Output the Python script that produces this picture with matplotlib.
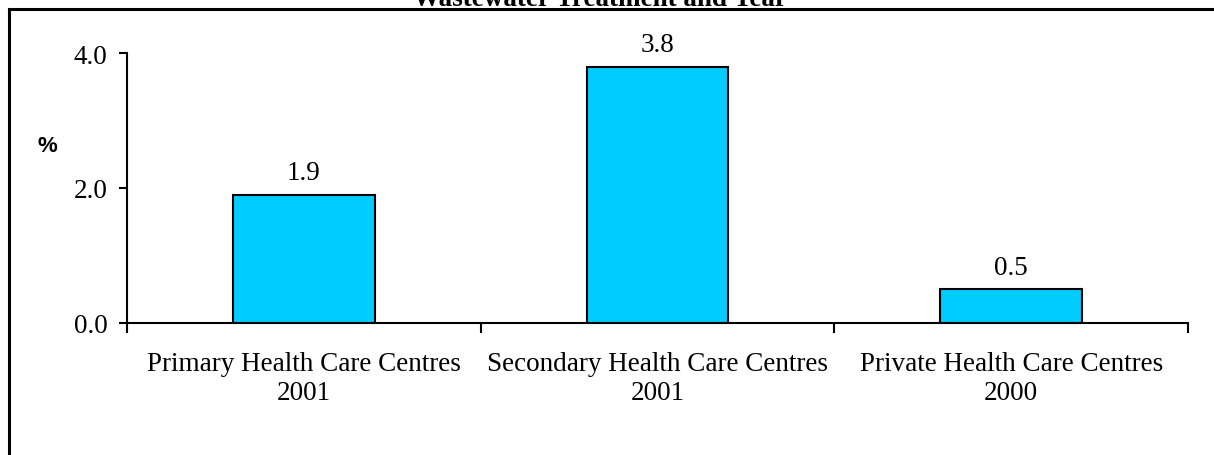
import matplotlib
matplotlib.use('Agg')
import matplotlib.pyplot as plt
from matplotlib.lines import Line2D

plt.rcParams['font.family'] = ['Liberation Serif', 'DejaVu Serif']

categories = ['Primary Health Care Centres\n2001',
              'Secondary Health Care Centres\n2001',
              'Private Health Care Centres\n2000']
values = [1.9, 3.8, 0.5]
yticks = [0.0, 2.0, 4.0]

W, H = 1214, 456
FS = 19.5
fig = plt.figure(figsize=(W / 100, H / 100), dpi=100)
fig.patch.set_facecolor('white')

# outer frame (only left and top visible, rest cropped)
fig.add_artist(Line2D([9 / W, 9 / W], [0, 1 - 10 / H], color='black', lw=2.2))
fig.add_artist(Line2D([9 / W, 1], [1 - 10 / H, 1 - 10 / H], color='black', lw=2.2))

# title, mostly cropped by the top edge (as in the source image)
fig.text(600 / W, 1 - 6 / H, 'Wastewater Treatment and Year',
         ha='center', va='baseline', fontsize=FS, fontweight='bold')

ax = fig.add_axes([127 / W, 1 - 324 / H, (1188 - 127) / W, (324 - 54) / H])
x = list(range(len(values)))
ax.bar(x, values, width=0.40, color='#00CCFF', edgecolor='black', linewidth=1.5, zorder=2)

for xi, v in zip(x, values):
    ax.annotate(f'{v:.1f}', (xi, v), xytext=(0, 7), textcoords='offset points',
                ha='center', va='bottom', fontsize=FS)

ax.set_xlim(-0.5, len(values) - 0.5)
ax.set_ylim(0, 4)
ax.set_yticks(yticks)
ax.set_yticklabels([f'{t:.1f}' for t in yticks], fontsize=FS)

# ticks at category boundaries, labels at centres
ax.set_xticks([i - 0.5 for i in range(len(values) + 1)])
ax.set_xticklabels([])
ax.set_xticks(x, minor=True)
ax.set_xticklabels(categories, minor=True, fontsize=FS, linespacing=1.2)
ax.tick_params(axis='x', which='minor', length=0, pad=20)
ax.tick_params(axis='x', which='major', length=7, width=1.5, direction='out')
ax.tick_params(axis='y', length=6, width=1.5, direction='out', pad=8)

for s in ['top', 'right']:
    ax.spines[s].set_visible(False)
for s in ['left', 'bottom']:
    ax.spines[s].set_linewidth(1.5)

fig.text(47 / W, 1 - 147 / H, '%', ha='center', va='center', fontsize=16,
         fontweight='bold', family=['Liberation Sans', 'DejaVu Sans'])

fig.savefig('out.png', dpi=100, facecolor='white')
